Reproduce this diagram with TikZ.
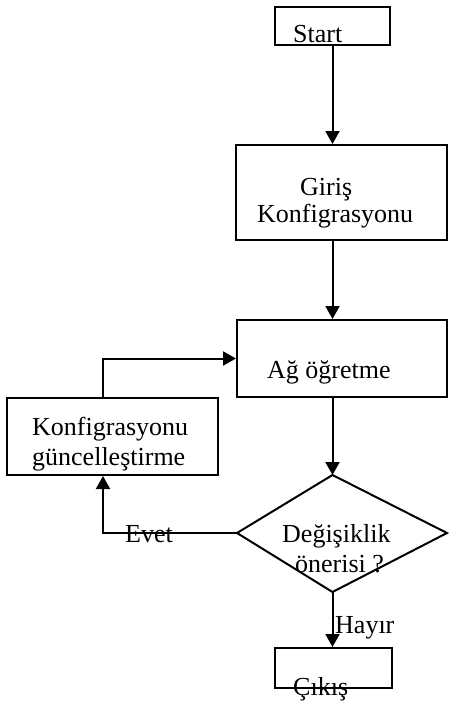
\documentclass[tikz,border=0pt]{standalone}
\usepackage{fontspec}
\setmainfont{Liberation Serif}[Ligatures=NoCommon]
\usetikzlibrary{arrows.meta}
\begin{document}
\begin{tikzpicture}[x=1pt,y=-1pt,
  box/.style={draw,line width=2pt,rectangle,inner sep=0pt},
  arr/.style={line width=2pt,-{Triangle[length=13pt,width=14pt]}},
  ln/.style={line width=2pt},
  txt/.style={inner sep=0pt,anchor=base west,font=\fontsize{26}{30}\selectfont}]
\useasboundingbox (0,0) rectangle (448,704);
% boxes
\node[box,minimum width=115pt,minimum height=38pt] (start) at (332.5,26) {};
\node[box,minimum width=211pt,minimum height=95pt] (giris) at (341.5,192.5) {};
\node[box,minimum width=210pt,minimum height=77pt] (ag) at (342,358.5) {};
\node[box,minimum width=211pt,minimum height=77pt] (konf) at (112.5,436.5) {};
\node[box,minimum width=117pt,minimum height=40pt] (cikis) at (333.5,668) {};
% diamond
\coordinate (dtop) at (332.5,475);
\coordinate (dleft) at (237,533);
\coordinate (dright) at (447,533);
\coordinate (dbot) at (332.5,592);
\draw[ln,line join=miter] (dtop) -- (dright) -- (dbot) -- (dleft) -- cycle;
\coordinate (kx) at (103,0);
% connectors
\draw[arr] (start.south) -- (start.south |- giris.north);
\draw[arr] (start.south |- giris.south) -- (start.south |- ag.north);
\draw[arr] (start.south |- ag.south) -- (dtop);
\draw[arr] (dbot) -- (dbot |- cikis.north);
\draw[arr] (dleft) -| (kx |- konf.south);
\draw[arr] (kx |- konf.north) |- (ag.west);
% texts
\node[txt] (tstart) at (293,42) {Start};
\node[txt] (tgiris1) at (300,195) {Giriş};
\node[txt] (tgiris2) at (257,222) {Konfigrasyonu};
\node[txt] (tag) at (267,378) {Ağ öğretme};
\node[txt] (tkonf1) at (32,435) {Konfigrasyonu};
\node[txt] (tkonf2) at (32,465) {güncelleştirme};
\node[txt] (tevet) at (125,542) {Evet};
\node[txt] (td1) at (282,542) {Değişiklik};
\node[txt] (td2) at (295,572) {önerisi ?};
\node[txt] (thayir) at (335,633) {Hayır};
\node[txt] (tcikis) at (293,695) {Çıkış};
\end{tikzpicture}
\end{document}
